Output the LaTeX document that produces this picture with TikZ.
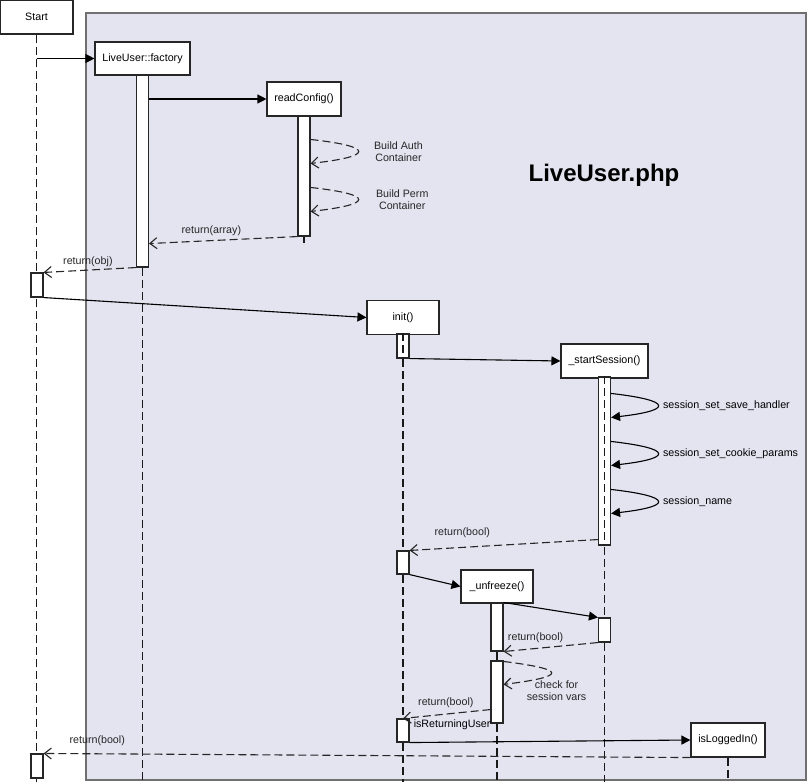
\documentclass[tikz,border=0pt]{standalone}
\usepackage{fontspec}
\setmainfont{Liberation Sans}
\usetikzlibrary{arrows.meta}
\definecolor{framefill}{RGB}{228,228,241}
\definecolor{framegray}{RGB}{112,112,112}
\tikzset{
  obj/.style={draw=black!85, fill=white, minimum height=34pt, inner sep=1pt, line width=1.1pt},
  act/.style={draw=black!85, fill=white, minimum width=12pt, inner sep=0pt, line width=1.1pt},
  life/.style={black!90, line width=1.1pt, dash pattern=on 8pt off 4pt},
  call/.style={line width=1.1pt, -{Triangle[length=9pt,width=9pt]}},
  ret/.style={black!85, line width=1.1pt, dash pattern=on 8pt off 4pt, -{Straight Barb[length=7pt,width=11pt]}},
  lbl/.style={inner sep=1pt},
}
\begin{document}
\begin{tikzpicture}[x=1pt,y=-1pt,font=\fontsize{10.7}{12.5}\selectfont]
	\useasboundingbox (0,0) rectangle (807,782);
	\coordinate (bot) at (0,782);
	% frame of LiveUser.php
	\draw[framegray, fill=framefill, line width=2pt] (86,13) rectangle (806,780);
	\node[font=\bfseries\fontsize{24}{28}\selectfont] (title) at (604,175) {LiveUser.php};

	% objects
	\node[obj, minimum width=73pt] (start) at (36.5,17) {Start};
	\node[obj, minimum width=95pt, minimum height=33pt] (fac) at (142.5,58.5) {LiveUser::factory};
	\node[obj, minimum width=74pt] (cfg) at (304,99) {readConfig()};
	\node[obj, minimum width=72pt] (init) at (403,317.5) {init()};
	\node[obj, minimum width=87pt] (sess) at (604.5,361) {\_startSession()};
	\node[obj, minimum width=72pt, minimum height=33pt] (unf) at (497,586.5) {\_unfreeze()};
	\node[obj, minimum width=74pt] (isl) at (728,740) {isLoggedIn()};

	% lifelines
	\draw[life] (start.south) -- (start.south |- bot);
	\draw[life] (fac.south) -- (fac.south |- bot);
	\draw[life] (cfg.south) -- ++(0,126);
	\draw[life] (init.south) -- (init.south |- bot);
	\draw[life] (sess.south) -- (sess.south |- bot);
	\draw[life] (unf.south) -- (unf.south |- bot);
	\draw[life] (isl.south) -- (isl.south |- bot);

	% activations
	\node[act, minimum height=24pt] (stAct1) at (37,285) {};
	\node[act, minimum height=192pt] (facAct) at (142.5,171) {};
	\node[act, minimum height=120pt] (cfgAct) at (304,176) {};
	\node[act, minimum height=24pt] (initAct1) at (403,346) {};
	\node[act, minimum height=168pt] (sessAct) at (604.5,461) {};
	\node[act, minimum height=23pt] (initAct2) at (403,562.5) {};
	\node[act, minimum height=48pt] (unfAct1) at (497,627) {};
	\node[act, minimum height=24pt] (sessAct2) at (604.5,630) {};
	\node[act, minimum height=62pt] (unfAct2) at (497,692) {};
	\node[act, minimum height=23pt] (initAct3) at (403,730.5) {};
	\node[act, minimum height=24pt] (stAct2) at (37,766) {};
	\draw[life] (initAct1.north) -- (initAct1.south);
	\draw[life] (sessAct.north) -- (sessAct.south);

	% messages
	\draw[call] (start.south |- fac.west) -- (fac.west);
	\draw[call] (facAct.east |- cfg.west) -- (cfg.west);
	\draw[ret] ([yshift=-24pt]cfgAct.north east) .. controls +(64,7) and +(64,-7) .. ([yshift=-48pt]cfgAct.north east)
		node[lbl, pos=.5, right=14pt, align=center] (auth) {Build Auth\\Container};
	\draw[ret] ([yshift=-72pt]cfgAct.north east) .. controls +(64,7) and +(64,-7) .. ([yshift=-96pt]cfgAct.north east)
		node[lbl, pos=.5, right=16pt, align=center] (perm) {Build Perm\\Container};
	\draw[ret] (cfgAct.south west) -- ([yshift=24pt]facAct.south east)
		node[lbl, pos=.58, above=3.5pt] (retArr) {return(array)};
	\draw[ret] (facAct.south west) -- (stAct1.north east)
		node[lbl, pos=.52, above=1.5pt] (retObj) {return(obj)};
	\draw[call] (stAct1.south east) -- (init.west);
	\draw[call] (initAct1.south east) -- (sess.west);
	\draw[call] ([yshift=-17pt]sessAct.north east) .. controls +(62,7) and +(62,-7) .. ([yshift=-41pt]sessAct.north east)
		node[lbl, pos=.5, right=4pt] (ssh) {session\_set\_save\_handler};
	\draw[call] ([yshift=-65pt]sessAct.north east) .. controls +(62,7) and +(62,-7) .. ([yshift=-89pt]sessAct.north east)
		node[lbl, pos=.5, right=4pt] (scp) {session\_set\_cookie\_params};
	\draw[call] ([yshift=-113pt]sessAct.north east) .. controls +(62,7) and +(62,-7) .. ([yshift=-137pt]sessAct.north east)
		node[lbl, pos=.5, right=4pt] (sn) {session\_name};
	\draw[ret] ([yshift=6pt]sessAct.south west) -- (initAct2.north east)
		node[lbl, pos=.72, above=8pt] (retB1) {return(bool)};
	\draw[call] (initAct2.south east) -- (unf.west);
	\draw[call] (unfAct1.north east) -- (sessAct2.north west);
	\draw[ret] (sessAct2.south west) -- (unfAct1.south east)
		node[lbl, pos=.66, above=4.5pt] (retB2) {return(bool)};
	\draw[ret] ([yshift=-1pt]unfAct2.north east) .. controls +(64,8) and +(64,-8) .. ([yshift=-24pt]unfAct2.north east)
		node[lbl, pos=.5, below=6pt, xshift=5pt, align=center] (chk) {check for\\session vars};
	\draw[ret] ([yshift=14pt]unfAct2.south west) -- (initAct3.north)
		node[lbl, pos=.51, above=5pt] (retB3) {return(bool)};
	\node[lbl, anchor=west] (isret) at ([shift={(3,6)}]initAct3.north east) {isReturningUser};
	\draw[call] (initAct3.south east) -- (isl.west);
	\draw[ret] (isl.south west) -- (stAct2.north east)
		node[lbl, pos=.917, above=6.5pt] (retB4) {return(bool)};
\end{tikzpicture}
\end{document}
